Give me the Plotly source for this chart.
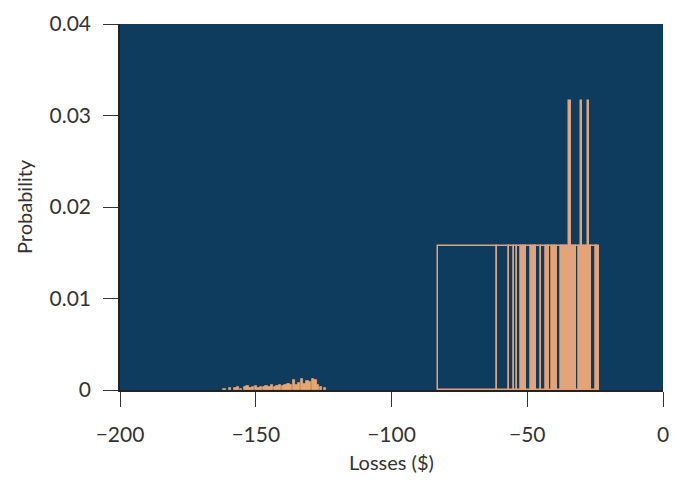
import plotly.graph_objects as go

# Right cluster: histogram bin edges and probabilities
right_edges = [-83.0, -61.0, -56.6, -54.7, -53.6, -52.2, -51.6, -51.0, -50.4,
               -48.5, -47.9, -47.3, -46.7, -44.9, -43.1, -42.5, -42.0, -40.9,
               -40.3, -39.6, -39.0, -37.6, -37.0, -36.4, -35.8, -35.2, -34.6,
               -34.0, -33.4, -32.8, -32.1, -31.0, -30.3, -29.7, -29.1, -28.5,
               -27.7, -27.1, -26.6, -24.8, -24.2, -23.6]
right_prob = [0.0157, 0.0157, 0.0157, 0.0157, 0.0157, 0.0157, 0.0157, 0.0157,
              0.0157, 0.0157, 0.0157, 0.0157, 0.0157, 0.0157, 0.0157, 0.0157,
              0.0157, 0.0157, 0.0157, 0.0157, 0.0157, 0.0157, 0.0157, 0.0157,
              0.0157, 0.0157, 0.0316, 0.0157, 0.0157, 0.0157, 0.0157, 0.0157,
              0.0316, 0.0157, 0.0157, 0.0157, 0.0316, 0.0157, 0.0157, 0.0157,
              0.0157]

# Left cluster: small probabilities
left_centers = [-161.5, -159.5, -157.5, -156.5, -155.5, -154.0, -153.0, -152.0,
                -151.0, -150.0, -149.0, -148.0, -147.0, -146.0, -145.0, -144.0,
                -143.0, -142.0, -141.0, -140.0, -139.0, -138.0, -137.0, -136.0,
                -135.0, -134.0, -133.0, -132.0, -131.0, -130.0, -129.0, -128.0,
                -127.0, -126.0, -124.5]
left_prob = [0.0001, 0.0002, 0.0002, 0.0003, 0.0001, 0.0003, 0.0004, 0.0002,
             0.0003, 0.0004, 0.0002, 0.0003, 0.0003, 0.0004, 0.0003, 0.0005,
             0.0003, 0.0004, 0.0006, 0.0004, 0.0005, 0.0007, 0.0005, 0.0011,
             0.0006, 0.0008, 0.0012, 0.0007, 0.0010, 0.0009, 0.0012, 0.0011,
             0.0006, 0.0003, 0.0002]

x_ticks = [-200, -150, -100, -50, 0]
y_ticks = [0, 0.01, 0.02, 0.03, 0.04]

BG = "#0e3c5e"
ORANGE = "#f4a860"
EDGE = "#e2a27a"

centers = [(a + b) / 2 for a, b in zip(right_edges[:-1], right_edges[1:])]
widths = [b - a for a, b in zip(right_edges[:-1], right_edges[1:])]
fills = [ORANGE if w < 1.0 else BG for w in widths]

fig = go.Figure()
fig.add_trace(go.Bar(
    x=left_centers, y=left_prob, width=[0.9] * len(left_centers),
    marker=dict(color=ORANGE, line=dict(color=EDGE, width=0.8)),
    showlegend=False, hoverinfo="x+y"))
fig.add_trace(go.Bar(
    x=centers, y=right_prob, width=widths,
    marker=dict(color=fills, line=dict(color=EDGE, width=1.5)),
    showlegend=False, hoverinfo="x+y"))

font_family = "Lato, 'Open Sans', sans-serif"
axis_common = dict(ticks="outside", ticklen=15, tickwidth=1.2,
                   tickcolor="#333333", showgrid=False, zeroline=False,
                   showline=True, linecolor="#222222", linewidth=1.5,
                   automargin=False, ticklabeloverflow="allow")
# page body has an 8px margin, so the figure is sized to fit inside the window
fig.update_layout(
    width=666, height=468,
    margin=dict(l=112, r=11, t=16, b=86),
    paper_bgcolor="white", plot_bgcolor=BG,
    barmode="overlay", bargap=0,
    font=dict(family=font_family, size=21, color="#333333"),
    xaxis=dict(range=[-200, 0], tickvals=x_ticks, ticklabelstandoff=10,
               **axis_common),
    yaxis=dict(range=[0, 0.04], tickvals=y_ticks, ticklabelstandoff=8,
               **axis_common),
    annotations=[
        dict(text="Losses ($)", xref="paper", yref="paper", x=0.5, y=0,
             xanchor="center", yanchor="middle", yshift=-72, showarrow=False,
             font=dict(size=20, color="#333333")),
        dict(text="Probability", xref="paper", yref="paper", x=0, y=0.5,
             xanchor="center", yanchor="middle", xshift=-96, textangle=-90,
             showarrow=False, font=dict(size=20, color="#333333")),
    ],
)

fig.write_html("out.html")
